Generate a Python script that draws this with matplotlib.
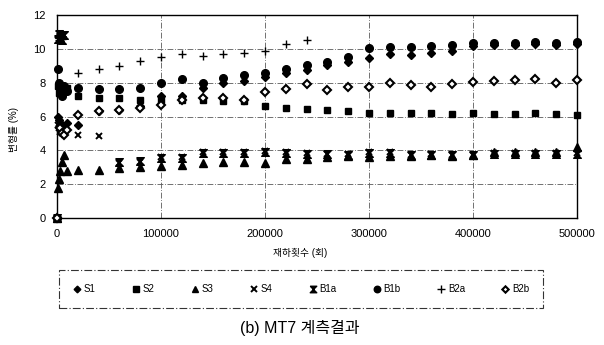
import numpy as np
import matplotlib
matplotlib.use("Agg")
import matplotlib.pyplot as plt

plt.rcParams['font.family'] = ['Liberation Sans', 'Noto Sans CJK KR', 'DejaVu Sans']

# load cycles (x) and strain values (%) per gauge
cycles = [0, 1000, 2000, 3000, 5000, 7000, 10000,
          20000, 40000, 60000, 80000, 100000, 120000, 140000, 160000, 180000, 200000,
          220000, 240000, 260000, 280000, 300000, 320000, 340000, 360000, 380000, 400000,
          420000, 440000, 460000, 480000, 500000]

s1 = [0, 6.0, 5.8, 5.6, 5.5, 5.3, 5.6,
      5.5, 6.35, 6.4, 6.6, 7.2, 7.2, 7.7, 8.0, 8.1, 8.35,
      8.6, 8.75, 9.05, 9.2, 9.45, 9.7, 9.65, 9.75, 9.9, 10.15,
      10.25, 10.25, 10.3, 10.25, 10.3]
s2 = [0, 7.8, 7.4, 7.6, 7.3, 7.5, 7.7,
      7.2, 7.1, 7.1, 7.0, 7.0, 6.95, 6.95, 6.9, 6.9, 6.6,
      6.5, 6.45, 6.4, 6.35, 6.2, 6.2, 6.2, 6.2, 6.15, 6.2,
      6.15, 6.15, 6.2, 6.15, 6.1]
s3 = [0, 1.8, 2.3, 2.8, 3.3, 3.7, 2.8,
      2.85, 2.85, 2.95, 3.0, 3.05, 3.15, 3.25, 3.3, 3.3, 3.25,
      3.5, 3.5, 3.6, 3.65, 3.6, 3.65, 3.65, 3.7, 3.65, 3.7,
      3.9, 3.9, 3.9, 3.9, 4.2]
s4 = [0, 5.5, 5.3, 5.1, 5.0, 5.2, None,
      4.9, 4.85, 3.25, 3.3, 3.6, 3.6, 3.9, 3.9, 3.9, 3.95,
      3.9, 3.85, 3.8, 3.8, 3.9, 3.9, 3.75, 3.8, 3.7, 3.7,
      3.85, 3.85, 3.85, 3.85, 3.85]
b1a = [0, 10.6, 10.9, 10.7, 10.5, 10.8, None,
       None, None, 3.3, 3.35, 3.55, 3.55, 3.85, 3.85, 3.85, 3.9,
       3.85, 3.8, 3.8, 3.75, 3.85, 3.85, 3.7, 3.75, 3.7, 3.7,
       3.8, 3.8, 3.8, 3.8, 3.8]
b1b = [0, 8.8, 8.0, 7.6, 7.2, 7.8, 7.5,
       7.7, 7.6, 7.6, 7.7, 8.0, 8.2, 8.0, 8.3, 8.45, 8.6,
       8.8, 9.05, 9.2, 9.5, 10.05, 10.1, 10.1, 10.15, 10.2, 10.35,
       10.35, 10.35, 10.4, 10.35, 10.4]
b2a = [0, 10.7, 10.5, 10.8, 10.6, None, None,
       8.6, 8.8, 9.0, 9.3, 9.5, 9.7, 9.6, 9.7, 9.75, 9.85,
       10.3, 10.5, None, None, None, None, None, None, None, None,
       None, None, None, None, None]
b2b = [0, None, None, 5.3, 5.0, 4.9, 5.2,
       6.1, 6.3, 6.4, 6.5, 6.7, 7.0, 7.1, 7.1, 7.0, 7.45,
       7.6, 7.9, 7.55, 7.75, 7.75, 8.0, 7.85, 7.75, 7.9, 8.05,
       8.1, 8.15, 8.2, 8.0, 8.15]

labels = ['S1', 'S2', 'S3', 'S4', 'B1a', 'B1b', 'B2a', 'B2b']
series = [s1, s2, s3, s4, b1a, b1b, b2a, b2b]

hourglass = [(-1, 1), (1, 1), (-1, -1), (1, -1), (-1, 1)]
styles = [
    dict(marker='D', ms=4, mfc='k', mec='k'),
    dict(marker='s', ms=5, mfc='k', mec='k'),
    dict(marker='^', ms=5.5, mfc='k', mec='k'),
    dict(marker='x', ms=5, mec='k', mew=1.4),
    dict(marker=hourglass, ms=5.5, mfc='k', mec='k'),
    dict(marker='o', ms=5.5, mfc='k', mec='k'),
    dict(marker='+', ms=6, mec='k', mew=1.0),
    dict(marker='D', ms=3.8, mfc='white', mec='k', mew=1.5),
]

x = np.array(cycles, dtype=float)

fig = plt.figure(figsize=(6.04, 3.45), dpi=100)
ax = fig.add_axes([57/604, 1-218/345, (577-57)/604, (218-15)/345])

for lab, vals, st in zip(labels, series, styles):
    y = np.array([np.nan if v is None else v for v in vals], dtype=float)
    ax.plot(x, y, linestyle='none', color='k', label=lab, clip_on=False, zorder=3, **st)

ax.set_xlim(0, 500000)
ax.set_ylim(0, 12)
ax.set_xticks([0, 100000, 200000, 300000, 400000, 500000])
ax.set_yticks([0, 2, 4, 6, 8, 10, 12])
ax.tick_params(length=0, labelsize=8, pad=8)
ax.grid(True, color='0.35', lw=0.6, linestyle=(0, (7, 2, 1, 2)))
for sp in ax.spines.values():
    sp.set_linewidth(1.0)
    sp.set_color('k')

fig.text(300/604, 1-253/345, '재하횟수 (회)', ha='center', va='center', fontsize=7)
fig.text(14/604, 1-130/345, '변형률 (%)', ha='center', va='center', fontsize=7, rotation=90)

leg = fig.legend(loc='center', bbox_to_anchor=(301/604, 1-289/345), ncol=8,
                 fontsize=7, frameon=True, fancybox=False, handlelength=0.8,
                 handletextpad=0.3, columnspacing=3.75, borderpad=1.4,
                 markerscale=0.85)
leg.get_frame().set_edgecolor('k')
leg.get_frame().set_linewidth(0.8)
leg.get_frame().set_linestyle((0, (7, 2, 1, 2)))

fig.text(300/604, 1-328/345, '(b) MT7 계측결과', ha='center', va='center', fontsize=11.5)

fig.savefig('out.png', dpi=100)
